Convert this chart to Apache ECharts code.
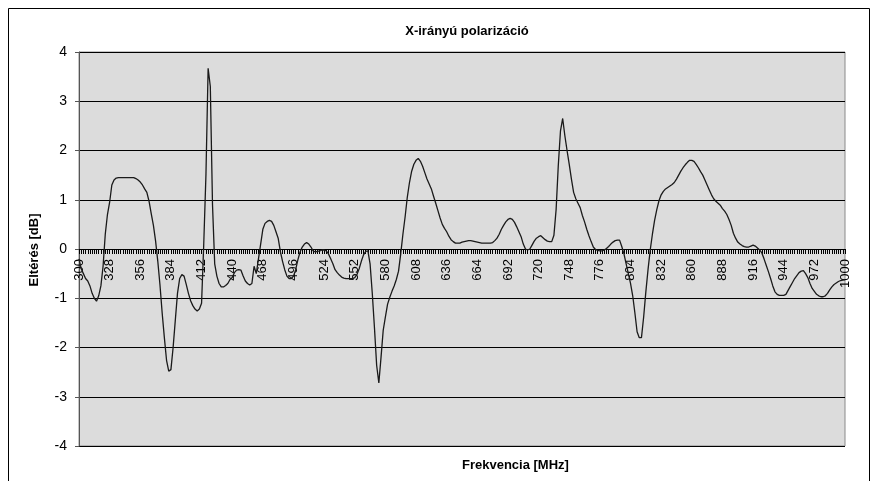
<!DOCTYPE html>
<html>
<head>
<meta charset="utf-8">
<script src="https://cdn.jsdelivr.net/npm/echarts@6/dist/echarts.min.js"></script>
<style>html,body{margin:0;padding:0;background:#fff}#c{width:877px;height:481px}</style>
</head>
<body>
<div id="c"></div>
<script>
// Frequencies 300..1000 MHz, step 2
var freqStart = 300, freqStep = 2, freqEnd = 1000;
var frequencies = [];
for (var f = freqStart; f <= freqEnd; f += freqStep) frequencies.push(String(f));

// Deviation [dB], rows of 14 values (28 MHz each)
var deviation = [
  -0.2,-0.4,-0.5,-0.6,-0.65,-0.75,-0.9,-1.0,-1.06,-0.95,-0.75,-0.35,0.3,0.7,
  0.95,1.3,1.4,1.44,1.45,1.45,1.45,1.45,1.45,1.45,1.45,1.45,1.43,1.4,
  1.36,1.3,1.22,1.15,0.97,0.72,0.48,0.16,-0.25,-0.73,-1.3,-1.8,-2.26,-2.48,
  -2.45,-2.0,-1.45,-0.9,-0.6,-0.52,-0.55,-0.72,-0.9,-1.05,-1.15,-1.22,-1.26,-1.22,
  -1.1,0.1,1.5,3.67,3.3,0.9,-0.3,-0.55,-0.7,-0.77,-0.77,-0.74,-0.7,-0.62,
  -0.58,-0.48,-0.43,-0.42,-0.43,-0.55,-0.65,-0.7,-0.73,-0.7,-0.35,-0.5,-0.2,0.1,
  0.4,0.52,0.56,0.58,0.56,0.48,0.35,0.22,-0.05,-0.25,-0.42,-0.55,-0.6,-0.6,
  -0.55,-0.42,-0.22,-0.06,0.04,0.1,0.13,0.1,0.04,-0.04,-0.06,-0.05,-0.04,-0.02,
  -0.02,-0.04,-0.1,-0.2,-0.3,-0.42,-0.48,-0.53,-0.57,-0.59,-0.6,-0.6,-0.6,-0.6,
  -0.58,-0.52,-0.4,-0.25,-0.12,-0.05,-0.04,-0.3,-0.9,-1.6,-2.36,-2.72,-2.2,-1.65,
  -1.38,-1.12,-0.98,-0.86,-0.75,-0.62,-0.45,-0.1,0.3,0.65,1.05,1.35,1.58,1.72,
  1.8,1.84,1.78,1.68,1.55,1.42,1.32,1.22,1.07,0.93,0.78,0.63,0.5,0.42,
  0.35,0.26,0.19,0.15,0.12,0.12,0.12,0.14,0.15,0.16,0.17,0.17,0.16,0.15,
  0.14,0.13,0.12,0.12,0.12,0.12,0.12,0.13,0.17,0.22,0.3,0.4,0.48,0.55,
  0.6,0.62,0.6,0.54,0.45,0.35,0.25,0.1,0.0,-0.02,0.0,0.08,0.16,0.22,
  0.25,0.27,0.23,0.19,0.16,0.15,0.15,0.28,0.8,1.7,2.4,2.65,2.3,2.0,
  1.72,1.42,1.15,1.02,0.93,0.84,0.68,0.55,0.4,0.27,0.15,0.04,-0.01,-0.03,
  -0.04,-0.04,-0.02,0.01,0.05,0.1,0.14,0.17,0.18,0.18,0.05,-0.1,-0.3,-0.5,
  -0.7,-0.95,-1.3,-1.68,-1.8,-1.8,-1.38,-0.87,-0.42,-0.02,0.3,0.58,0.8,0.98,
  1.1,1.17,1.22,1.25,1.28,1.31,1.35,1.42,1.5,1.58,1.65,1.71,1.76,1.8,
  1.8,1.78,1.72,1.65,1.57,1.5,1.4,1.3,1.2,1.1,1.02,0.97,0.93,0.89,
  0.82,0.77,0.7,0.6,0.48,0.32,0.22,0.14,0.1,0.07,0.05,0.04,0.04,0.06,
  0.08,0.06,0.02,-0.02,-0.08,-0.2,-0.33,-0.46,-0.6,-0.75,-0.87,-0.92,-0.94,-0.94,
  -0.94,-0.92,-0.84,-0.76,-0.68,-0.6,-0.54,-0.48,-0.45,-0.44,-0.5,-0.58,-0.7,-0.8,
  -0.86,-0.92,-0.95,-0.97,-0.97,-0.95,-0.9,-0.83,-0.77,-0.72,-0.69,-0.66,-0.64,-0.63,
  -0.62
];

var titleText = "X-irányú polarizáció";
var xTitle = "Frekvencia [MHz]";
var yTitle = "Eltérés [dB]";
var yTicks = [-4, -3, -2, -1, 0, 1, 2, 3, 4];

var gridTop = 52, gridBottom = 35, chartH = 481;
var plotH = chartH - gridTop - gridBottom;
var yMin = yTicks[0], yMax = yTicks[yTicks.length - 1];
// distance from plot bottom to the zero line, so the category axis sits on y = 0
var zeroOffset = -plotH * (0 - yMin) / (yMax - yMin);

var chart = echarts.init(document.getElementById('c'), null, {renderer: 'canvas'});
var FONT = 'Liberation Sans, Arial, sans-serif';
chart.setOption({
  animation: false,
  backgroundColor: '#ffffff',
  title: {
    text: titleText, left: 462, top: 20, textAlign: 'center',
    textStyle: {fontFamily: FONT, fontSize: 13, fontWeight: 'bold', color: '#000'}
  },
  graphic: [
    {type: 'rect', shape: {x: 8.5, y: 8.5, width: 861, height: 480},
     style: {fill: null, stroke: '#000', lineWidth: 1}, z: 100, silent: true},
    {type: 'text', left: 462, top: 459, style: {text: xTitle, font: 'bold 13px ' + FONT, fill: '#000', textAlign: 'center'}},
    {type: 'text', x: 34, y: 250, rotation: Math.PI / 2,
     style: {text: yTitle, font: 'bold 13px ' + FONT, fill: '#000', textAlign: 'center', textVerticalAlign: 'middle'}}
  ],
  grid: {
    left: 79, right: 32, top: gridTop, bottom: gridBottom, show: true,
    backgroundColor: '#dcdcdc', borderColor: '#8a8a8a', borderWidth: 1
  },
  xAxis: {
    type: 'category', data: frequencies, boundaryGap: false,
    offset: zeroOffset,
    axisLine: {onZero: false, lineStyle: {color: '#000', width: 1}},
    axisTick: {show: true, interval: 0, length: 5, lineStyle: {color: '#000', width: 1}},
    axisLabel: {interval: 13, rotate: 90, margin: 10, fontFamily: FONT, fontSize: 13, color: '#000'},
    splitLine: {show: false}
  },
  yAxis: {
    type: 'value', min: yMin, max: yMax, interval: 1,
    axisLine: {show: true, lineStyle: {color: '#555', width: 1}},
    axisTick: {show: true, length: 4, lineStyle: {color: '#555'}},
    axisLabel: {fontFamily: FONT, fontSize: 14, color: '#000', margin: 12},
    splitLine: {show: true, lineStyle: {color: '#000', width: 1}}
  },
  series: [{
    type: 'line', data: deviation, symbol: 'none', sampling: null,
    lineStyle: {color: '#1a1a1a', width: 1.3}, z: 5
  }]
});
</script>
</body>
</html>
